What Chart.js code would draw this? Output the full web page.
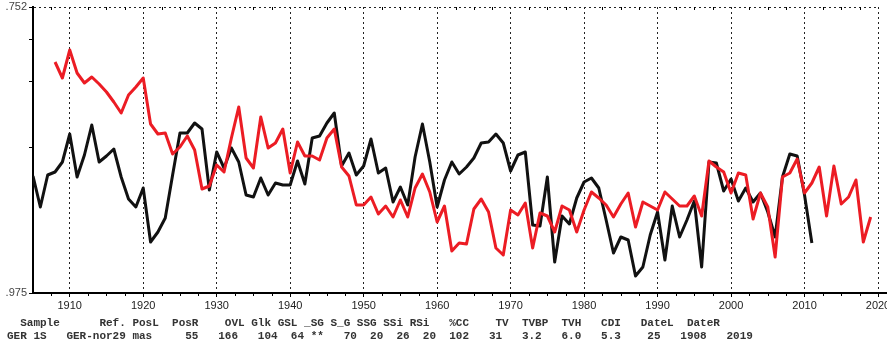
<!DOCTYPE html>
<html>
<head>
<meta charset="utf-8">
<script src="https://cdn.jsdelivr.net/npm/chart.js@4.4.1/dist/chart.umd.min.js"></script>
<style>
  html, body { margin: 0; padding: 0; background: #fff; }
  #wrap { position: relative; width: 887px; height: 345px; }
</style>
</head>
<body>
<div id="wrap"><canvas id="chart" width="887" height="345"></canvas></div>
<script>
// --- data (index values, bottom of axis = 0) ---
const BLACK_START = 1905;
const blackValues = [
  117, 86, 118, 121, 131, 159, 116, 138, 168, 131,   // 1905-1914
  137, 144, 116, 94, 86, 105, 51, 61, 75, 118,       // 1915-1924
  160, 160, 170, 164, 103, 141, 125, 145, 131, 98,   // 1925-1934
  96, 115, 98, 110, 108, 108, 132, 109, 155, 157,    // 1935-1944
  170, 180, 127, 140, 118, 127, 154, 120, 125, 91,   // 1945-1954
  106, 88, 136, 169, 131, 86, 113, 131, 119, 126,    // 1955-1964
  135, 150, 151, 159, 150, 122, 138, 141, 68, 67,    // 1965-1974
  116, 31, 77, 69, 95, 111, 115, 105, 73, 40,        // 1975-1984
  56, 53, 17, 26, 58, 81, 33, 87, 56, 73,            // 1985-1994
  92, 26, 131, 130, 102, 114, 92, 105, 91, 100,      // 1995-2004
  81, 56, 116, 139, 137, 98, 50                      // 2005-2011
];

const RED_START = 1908;
const redValues = [
  231, 215, 243, 220, 210, 216, 209, 201, 191, 180,  // 1908-1917
  198, 206, 215, 169, 159, 160, 139, 146, 157, 143,  // 1918-1927
  104, 107, 128, 121, 155, 186, 135, 125, 176, 145,  // 1928-1937
  150, 164, 120, 151, 137, 137, 133, 155, 164, 126,  // 1938-1947
  117, 88, 88, 96, 79, 87, 76, 93, 76, 105,          // 1948-1957
  119, 101, 71, 87, 42, 50, 49, 84, 94, 81,          // 1958-1967
  45, 38, 83, 78, 90, 45, 80, 77, 61, 87,            // 1968-1977
  83, 61, 83, 101, 95, 88, 76, 89, 100, 66,          // 1978-1987
  91, 87, 83, 101, 94, 87, 87, 97, 77, 132,          // 1988-1997
  126, 121, 100, 120, 118, 74, 100, 86, 36, 116,     // 1998-2007
  120, 134, 100, 110, 126, 77, 127, 89, 96, 113,     // 2008-2017
  51, 76                                             // 2018-2019
];

const decadeTicks = [1910, 1920, 1930, 1940, 1950, 1960, 1970, 1980, 1990, 2000, 2010, 2020];
const yTicks = [0, 146, 211, 254, 286];
const yTickLabels = { 0: '.975', 286: '.752' };

const TABLE_HEAD = '  Sample      Ref. PosL  PosR    OVL Glk GSL _SG S_G SSG SSi RSi   %CC    TV  TVBP  TVH   CDI   DateL  DateR';
const TABLE_ROW  = 'GER 1S   GER-nor29 mas     55   166   104  64 **   70  20  26  20  102   31   3.2   6.0   5.3    25   1908   2019';

function toPoints(start, values) {
  return values.map((v, i) => ({ x: start + i, y: v }));
}

// minor ticks every 2.5 years, top and bottom, axis run-out, and the text table
const extras = {
  id: 'extras',
  afterDraw(chart) {
    const { ctx, chartArea: a, scales: { x } } = chart;
    ctx.save();
    ctx.strokeStyle = '#000';
    ctx.lineWidth = 1;
    ctx.beginPath();
    for (let yr = 1907.5; yr < 2020; yr += 2.5) {
      if (yr % 10 === 0) continue;
      const px = Math.round(x.getPixelForValue(yr)) + 0.5;
      ctx.moveTo(px, a.bottom);
      ctx.lineTo(px, a.bottom + 3);
      ctx.moveTo(px, a.top);
      ctx.lineTo(px, a.top + 3);
    }
    ctx.stroke();

    // bottom axis runs on to the right edge
    ctx.lineWidth = 2;
    ctx.beginPath();
    ctx.moveTo(a.right, a.bottom);
    ctx.lineTo(chart.width, a.bottom);
    ctx.stroke();

    ctx.font = 'bold 11px "Liberation Mono", "Courier New", monospace';
    ctx.fillStyle = '#333';
    ctx.textBaseline = 'middle';
    ctx.fillText(TABLE_HEAD, 7, 323.5);
    ctx.fillText(TABLE_ROW, 7, 336);
    ctx.restore();
  }
};

const ctx = document.getElementById('chart').getContext('2d');
new Chart(ctx, {
  type: 'line',
  data: {
    datasets: [
      {
        label: 'GER-nor29',
        data: toPoints(RED_START, redValues),
        borderColor: '#ec1c24',
        borderWidth: 3,
        pointRadius: 0,
        tension: 0,
        borderJoinStyle: 'round'
      },
      {
        label: 'GER 1S',
        data: toPoints(BLACK_START, blackValues),
        borderColor: '#111',
        borderWidth: 3,
        pointRadius: 0,
        tension: 0,
        borderJoinStyle: 'round'
      }
    ]
  },
  options: {
    responsive: false,
    animation: false,
    devicePixelRatio: 1,
    layout: { padding: { top: 7, right: 9, left: 0, bottom: 0 } },
    plugins: {
      legend: { display: false },
      tooltip: { enabled: false }
    },
    scales: {
      x: {
        type: 'linear',
        min: 1905,
        max: 2020,
        afterBuildTicks: (s) => { s.ticks = decadeTicks.map(v => ({ value: v })); },
        afterFit: (s) => { s.height = 52; s.paddingLeft = 0; s.paddingRight = 0; },
        ticks: {
          autoSkip: false,
          maxRotation: 0,
          padding: 2,
          color: '#222',
          font: { family: '"Liberation Sans", Arial, sans-serif', size: 11 },
          callback: (v) => String(v)
        },
        grid: { color: '#222', lineWidth: 1, tickLength: 4, tickColor: '#000', tickWidth: 1 },
        border: { color: '#000', width: 2, dash: [2, 3] }
      },
      y: {
        type: 'linear',
        min: 0,
        max: 286,
        afterBuildTicks: (s) => { s.ticks = yTicks.map(v => ({ value: v })); },
        afterFit: (s) => { s.width = 33; s.paddingTop = 0; s.paddingBottom = 0; },
        ticks: {
          padding: 2,
          color: '#444',
          font: { family: '"Liberation Sans", Arial, sans-serif', size: 11 },
          callback: (v) => yTickLabels[v] || ''
        },
        grid: {
          color: (c) => (c.tick && c.tick.value === 286 ? '#222' : 'rgba(0,0,0,0)'),
          lineWidth: 1,
          tickLength: 4,
          tickColor: '#000'
        },
        border: { color: '#000', width: 2, dash: [2, 3] }
      }
    }
  },
  plugins: [extras]
});
</script>
</body>
</html>
